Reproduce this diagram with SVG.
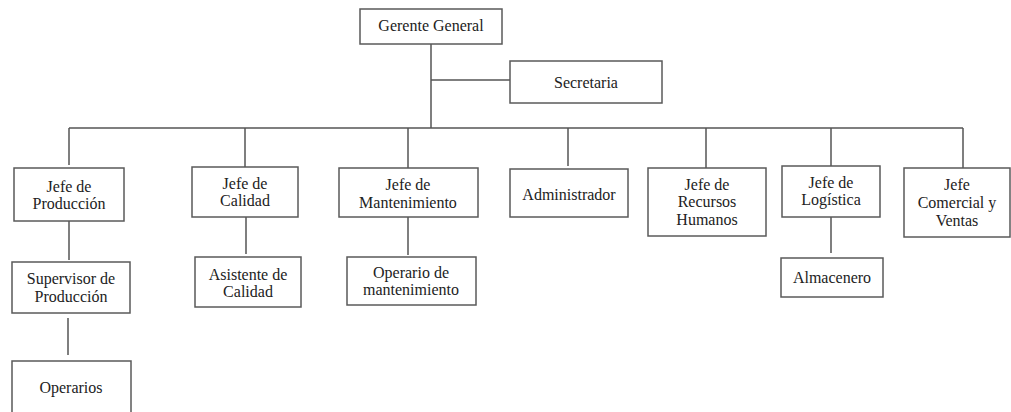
<svg xmlns="http://www.w3.org/2000/svg" width="1011" height="412" viewBox="0 0 1011 412">
<style>
.box{fill:#fff;stroke:#5a5a5a;stroke-width:1.5}
.t{font-family:"Liberation Serif","Times New Roman",serif;font-size:16px;fill:#222;text-anchor:middle}
.c{stroke:#555;stroke-width:1.5;fill:none}
</style>
<rect width="1011" height="412" fill="#fff"/>
<g id="connectors">
<line class="c" x1="431" y1="44" x2="431" y2="128"/>
<line class="c" x1="431" y1="80" x2="510" y2="80"/>
<line class="c" x1="69" y1="128" x2="963" y2="128"/>
<line class="c" x1="69" y1="128" x2="69" y2="165"/>
<line class="c" x1="245" y1="128" x2="245" y2="167"/>
<line class="c" x1="408" y1="128" x2="408" y2="168"/>
<line class="c" x1="568" y1="128" x2="568" y2="166"/>
<line class="c" x1="706" y1="128" x2="706" y2="168"/>
<line class="c" x1="831" y1="128" x2="831" y2="166"/>
<line class="c" x1="963" y1="128" x2="963" y2="168"/>
<line class="c" x1="69" y1="221" x2="69" y2="260"/>
<line class="c" x1="246" y1="217" x2="246" y2="254"/>
<line class="c" x1="408" y1="217" x2="408" y2="255"/>
<line class="c" x1="831" y1="217" x2="831" y2="253"/>
<line class="c" x1="68" y1="318" x2="68" y2="355"/>
</g>
<g id="gerente"><rect class="box" x="360" y="9" width="142" height="35"/><text class="t" x="431" y="31">Gerente General</text></g>
<g id="secretaria"><rect class="box" x="510" y="61" width="152" height="42"/><text class="t" x="586" y="88">Secretaria</text></g>
<g id="produccion"><rect class="box" x="14" y="168" width="110" height="53"/><text class="t" x="69" y="192">Jefe de</text><text class="t" x="69" y="209">Producción</text></g>
<g id="calidad"><rect class="box" x="192" y="167" width="106" height="50"/><text class="t" x="245" y="189">Jefe de</text><text class="t" x="245" y="206">Calidad</text></g>
<g id="mantenimiento"><rect class="box" x="339" y="168" width="139" height="49"/><text class="t" x="408" y="190">Jefe de</text><text class="t" x="408" y="208">Mantenimiento</text></g>
<g id="administrador"><rect class="box" x="510" y="169" width="118" height="48"/><text class="t" x="569" y="200">Administrador</text></g>
<g id="rrhh"><rect class="box" x="648" y="168" width="118" height="68"/><text class="t" x="707" y="190">Jefe de</text><text class="t" x="707" y="207">Recursos</text><text class="t" x="707" y="225">Humanos</text></g>
<g id="logistica"><rect class="box" x="782" y="166" width="98" height="51"/><text class="t" x="831" y="188">Jefe de</text><text class="t" x="831" y="205">Logística</text></g>
<g id="comercial"><rect class="box" x="904" y="168" width="106" height="69"/><text class="t" x="957" y="190">Jefe</text><text class="t" x="957" y="208">Comercial y</text><text class="t" x="957" y="226">Ventas</text></g>
<g id="supervisor"><rect class="box" x="12" y="262" width="118" height="51"/><text class="t" x="71" y="284">Supervisor de</text><text class="t" x="71" y="302">Producción</text></g>
<g id="asistente"><rect class="box" x="195" y="257" width="106" height="50"/><text class="t" x="248" y="280">Asistente de</text><text class="t" x="248" y="297">Calidad</text></g>
<g id="operario"><rect class="box" x="347" y="257" width="129" height="48"/><text class="t" x="411" y="278">Operario de</text><text class="t" x="411" y="295">mantenimiento</text></g>
<g id="almacenero"><rect class="box" x="781" y="258" width="102" height="39"/><text class="t" x="832" y="283">Almacenero</text></g>
<g id="operarios"><rect class="box" x="12" y="361" width="119" height="60"/><text class="t" x="71" y="393">Operarios</text></g>
</svg>
